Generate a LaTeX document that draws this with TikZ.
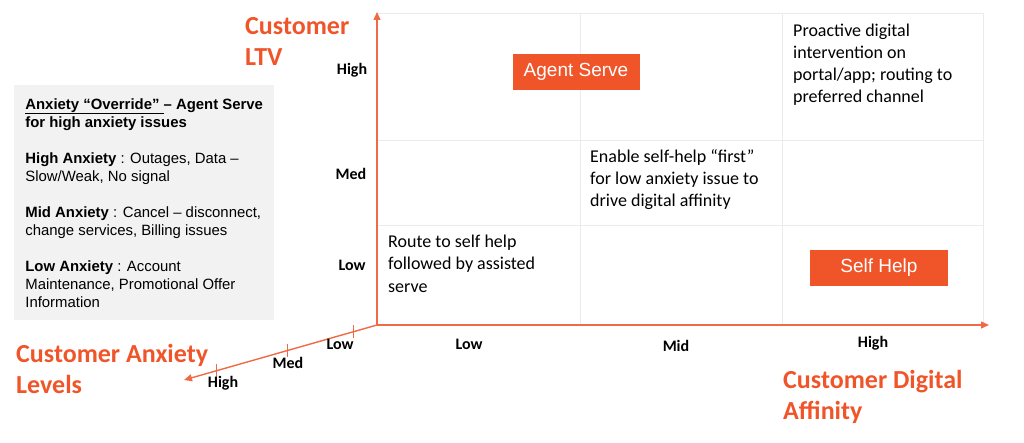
\documentclass[tikz,border=0pt]{standalone}
\usepackage{fontspec}
\setmainfont{Liberation Sans}
\newfontfamily\calib{Carlito}
\usepackage{xcolor}
\usepackage{tikz}
\usetikzlibrary{arrows.meta, positioning, calc}
\definecolor{accent}{HTML}{F0552A}
\definecolor{axisline}{HTML}{F06A45}
\definecolor{gridline}{HTML}{EBEBEB}
\definecolor{notefill}{HTML}{F2F2F2}

\begin{document}
\begin{tikzpicture}[
    x=1pt, y=-1pt,
    axis/.style={draw=axisline, line width=1.4pt, -{Triangle[length=8pt, width=7pt]}},
    tickmark/.style={draw=axisline, line width=1pt},
    gridrule/.style={draw=gridline, line width=0.9pt},
    axtitle/.style={font=\calib\bfseries\fontsize{26}{31}\selectfont, text=accent, align=left, inner sep=0pt, anchor=base west},
    level/.style={font=\calib\bfseries\fontsize{16}{18}\selectfont, inner sep=0pt},
    cell/.style={font=\calib\fontsize{18}{22}\selectfont, align=left, inner sep=0pt, anchor=base west},
    action/.style={fill=accent, text=white, font=\fontsize{19}{22}\selectfont, minimum height=36pt, inner sep=0pt},
    note/.style={fill=notefill, font=\fontsize{14.9}{18}\selectfont, align=left, inner xsep=10pt, minimum width=260pt, minimum height=235pt, anchor=north west},
]
\useasboundingbox (0,0) rectangle (1024,443);

% ── Frame points ──
\coordinate (origin) at (377,325);
\coordinate (ltv tip) at (377,12);
\coordinate (aff tip) at (989,325);
\coordinate (anx tip) at (184,380);

% ── Grid ──
\draw[gridrule] (377,13) rectangle (983,325);
\foreach \gx in {580,782} \draw[gridrule] (\gx,13) -- (\gx,325);
\foreach \gy in {140,225} \draw[gridrule] (377,\gy) -- (983,\gy);

% ── Axes ──
\draw[axis] (origin) -- (ltv tip);
\draw[axis] (origin) -- (aff tip);
\draw[axis] (origin) -- (anx tip);
\foreach \t in {0.12,0.464,0.83}
  \draw[tickmark] ($(origin)!\t!(anx tip)$) ++(0,-6.5) -- ++(0,13);

% ── Axis titles (base = last line) ──
\node[axtitle] (ltv title) at (245,66) {Customer\\LTV};
\node[axtitle] (aff title) at (783,419) {Customer Digital\\Affinity};
\node[axtitle] (anx title) at (16,393) {Customer Anxiety\\Levels};

% ── Level labels ──
\node[level] (ltv high) at (352,70) {High};
\node[level] (ltv med) at (351,174) {Med};
\node[level] (ltv low) at (352,265) {Low};
\node[level] (aff low) at (469,344) {Low};
\node[level] (aff mid) at (676,346) {Mid};
\node[level] (aff high) at (873,343) {High};
\node[level] (anx low) at (340,344) {Low};
\node[level] (anx med) at (288,363) {Med};
\node[level] (anx high) at (223,383) {High};

% ── Cells ──
\node[cell] (proactive) at (793,103) {Proactive digital\\intervention on\\portal/app; routing to\\preferred channel};
\node[cell] (enable) at (590,207) {Enable self-help “first”\\for low anxiety issue to\\drive digital affinity};
\node[cell] (route) at (388,292) {Route to self help\\followed by assisted\\serve};

\node[action, minimum width=127pt] (agent) at (576,72) {Agent Serve};
\node[action, minimum width=138pt] (selfhelp) at (879,268) {Self Help};

% ── Override note ──
\node[note] (override) at (14,85) {%
  \textbf{\underline{Anxiety “Override”\ }– Agent Serve}\\
  \textbf{for high anxiety issues}\\[18pt]
  \textbf{High Anxiety} : Outages, Data –\\
  Slow/Weak, No signal\\[18pt]
  \textbf{Mid Anxiety} : Cancel – disconnect,\\
  change services, Billing issues\\[18pt]
  \textbf{Low Anxiety} : Account\\
  Maintenance, Promotional Offer\\
  Information};

\end{tikzpicture}
\end{document}
